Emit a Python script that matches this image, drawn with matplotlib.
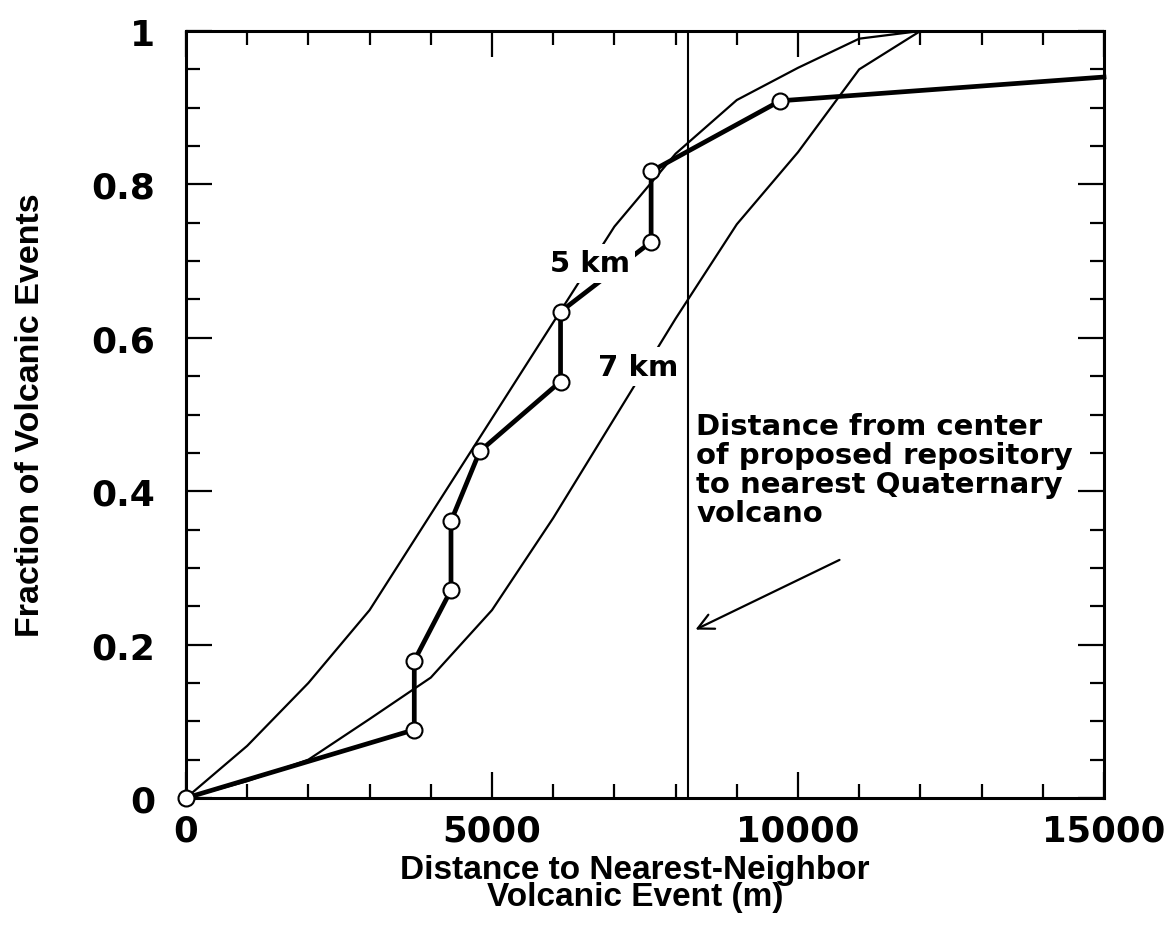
import matplotlib
matplotlib.use("Agg")
import matplotlib.pyplot as plt
from matplotlib import font_manager
from matplotlib.ticker import MultipleLocator, FixedLocator

# ---------------- data ----------------
dist_obs = [0, 3730, 3730, 4330, 4330, 4800, 6120, 6120, 7600, 7600, 9710, 15000]
frac_obs = [0, 0.089, 0.179, 0.271, 0.361, 0.452, 0.543, 0.634, 0.725, 0.817, 0.909, 0.94]
n_markers = 11  # last point is the line end at the frame, no marker

dist_model = [0, 1000, 2000, 3000, 4000, 5000, 6000, 7000, 8000, 9000, 10000, 11000, 12000]
frac_5km = [0, 0.068, 0.150, 0.245, 0.370, 0.495, 0.620, 0.745, 0.840, 0.910, 0.952, 0.990, 1.0]
frac_7km = [0, 0.022, 0.050, 0.103, 0.157, 0.245, 0.365, 0.495, 0.625, 0.748, 0.842, 0.950, 1.0]

repo_dist = 8200
x_ticks = [0, 5000, 10000, 15000]
x_ticklabels = ["0", "5000", "10000", "15000"]
y_ticks = [0, 0.2, 0.4, 0.6, 0.8, 1.0]
y_ticklabels = ["0", "0.2", "0.4", "0.6", "0.8", "1"]

# ---------------- fonts ----------------
names = {f.name for f in font_manager.fontManager.ttflist}
lab_font = "Liberation Sans" if "Liberation Sans" in names else "DejaVu Sans"
heavy = "DejaVu Sans"

W, H = 1170, 929
fig = plt.figure(figsize=(W / 100, H / 100), dpi=100)
L, R, T, B = 186, 1104, 32, 799
ax = fig.add_axes([L / W, 1 - B / H, (R - L) / W, (B - T) / H])

ax.plot(dist_model, frac_5km, color="black", lw=1.6, zorder=2)
ax.plot(dist_model, frac_7km, color="black", lw=1.6, zorder=2)
ax.axvline(repo_dist, color="black", lw=1.5, zorder=2)
ax.plot(dist_obs, frac_obs, color="black", lw=3.4, zorder=3,
        marker="o", markersize=11.5, markerfacecolor="white",
        markeredgecolor="black", markeredgewidth=1.5,
        markevery=list(range(n_markers)), clip_on=False)

ax.set_xlim(0, 15000)
ax.set_ylim(0, 1)

ax.xaxis.set_major_locator(FixedLocator(x_ticks))
ax.set_xticklabels(x_ticklabels)
ax.yaxis.set_major_locator(FixedLocator(y_ticks))
ax.set_yticklabels(y_ticklabels)
ax.xaxis.set_minor_locator(MultipleLocator(1000))
ax.yaxis.set_minor_locator(MultipleLocator(0.05))

ax.tick_params(which="both", direction="in", top=True, right=True, width=1.6, color="black")
ax.tick_params(which="major", length=19)
ax.tick_params(which="minor", length=10)
ax.tick_params(axis="x", which="major", pad=11, labelsize=25.5)
ax.tick_params(axis="y", which="major", pad=22, labelsize=26)
for lab in ax.get_xticklabels() + ax.get_yticklabels():
    lab.set_fontfamily(heavy)
    lab.set_fontweight("bold")

for s in ax.spines.values():
    s.set_linewidth(2.2)

ax.set_xlabel("Distance to Nearest-Neighbor\nVolcanic Event (m)",
              fontsize=24, fontweight="bold", family=lab_font, linespacing=0.85)
ax.xaxis.set_label_coords(0.489, -0.073)
ax.set_ylabel("Fraction of Volcanic Events", fontsize=24.5, fontweight="bold", family=lab_font)
ax.yaxis.set_label_coords(-0.152, 0.5)

lab_box = dict(facecolor="white", edgecolor="none", pad=4)
ax.text(6600, 0.697, "5 km", fontsize=21, fontweight="bold", family=heavy,
        ha="center", va="center", bbox=lab_box, zorder=5)
ax.text(7390, 0.562, "7 km", fontsize=21, fontweight="bold", family=heavy,
        ha="center", va="center", bbox=lab_box, zorder=5)

ax.text(8340, 0.503,
        "Distance from center\nof proposed repository\nto nearest Quaternary\nvolcano",
        fontsize=21, fontweight="bold", family=heavy, ha="left", va="top",
        linespacing=1.04, zorder=5)

ax.annotate("", xy=(8284, 0.218), xytext=(10719, 0.312),
            arrowprops=dict(arrowstyle="->", lw=1.6, color="black", mutation_scale=28))

fig.savefig("out.png", dpi=100)
